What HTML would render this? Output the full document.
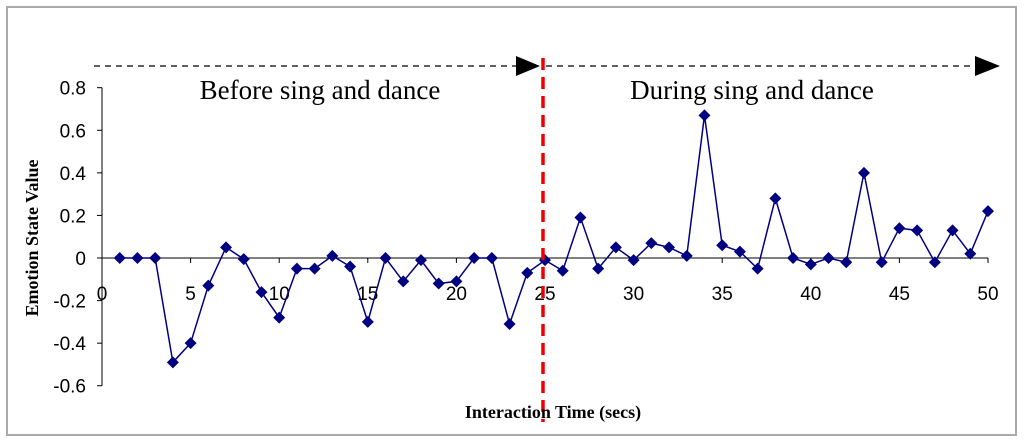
<!DOCTYPE html>
<html><head><meta charset="utf-8"><style>
body{margin:0;background:#fff}
svg{display:block}
text{font-family:"Liberation Sans",sans-serif}
</style></head><body>
<svg id="chart" width="1024" height="443">
<rect x="7" y="7" width="1009" height="428" fill="none" stroke="#aaa" stroke-width="2"/>
<g id="axes"></g>
<g id="marks"></g>
<g>
<line x1="94" y1="66" x2="516" y2="66" stroke="#000" stroke-dasharray="6,5" stroke-width="1.3"/>
<polygon points="516,56 540,66 516,76" fill="#000"/>
<line x1="546" y1="66" x2="975" y2="66" stroke="#000" stroke-dasharray="6,5" stroke-width="1.3"/>
<polygon points="975,56 1000,66 975,76" fill="#000"/>
<text x="320" y="99" font-family="Liberation Serif" font-size="27" text-anchor="middle" style="font-family:'Liberation Serif',serif">Before sing and dance</text>
<text x="752" y="99" font-size="27" text-anchor="middle" style="font-family:'Liberation Serif',serif">During sing and dance</text>
<line x1="543" y1="58" x2="543" y2="422" stroke="#e00" stroke-width="3.5" stroke-dasharray="12,7"/>
<text x="553" y="418" font-size="18" font-weight="bold" text-anchor="middle" style="font-family:'Liberation Serif',serif">Interaction Time (secs)</text>
<text transform="translate(38,238) rotate(-90)" font-size="18" font-weight="bold" text-anchor="middle" style="font-family:'Liberation Serif',serif">Emotion State Value</text>
</g>
</svg>
<script>
const xValues=[1,2,3,4,5,6,7,8,9,10,11,12,13,14,15,16,17,18,19,20,21,22,23,24,25,26,27,28,29,30,31,32,33,34,35,36,37,38,39,40,41,42,43,44,45,46,47,48,49,50];
const emotionValues=[0,0,0,-0.49,-0.4,-0.13,0.05,-0.005,-0.16,-0.28,-0.05,-0.05,0.01,-0.04,-0.3,0,-0.11,-0.01,-0.12,-0.11,0,0,-0.31,-0.07,-0.01,-0.06,0.19,-0.05,0.05,-0.01,0.07,0.05,0.01,0.67,0.06,0.03,-0.05,0.28,0,-0.03,0,-0.02,0.40,-0.02,0.14,0.13,-0.02,0.13,0.02,0.22];
const yTicks=[0.8,0.6,0.4,0.2,0,-0.2,-0.4,-0.6];
const yTickLabels=["0.8","0.6","0.4","0.2","0","-0.2","-0.4","-0.6"];
const xTicks=[0,5,10,15,20,25,30,35,40,45,50];
const NS="http://www.w3.org/2000/svg";
const xs=v=>102+v*17.72;
const ys=v=>258-v*212.9;
const axes=document.getElementById('axes'),marks=document.getElementById('marks');
function mk(tag,attrs,parent){const e=document.createElementNS(NS,tag);for(const k in attrs)e.setAttribute(k,attrs[k]);parent.appendChild(e);return e;}
const ya=mk('line',{x1:xs(0),y1:ys(0.8),x2:xs(0),y2:ys(-0.6),stroke:'#000'},axes);


const xa=mk('line',{x1:xs(0),y1:ys(0),x2:xs(50),y2:ys(0),stroke:'#000'},axes);


yTicks.forEach((t,i)=>{
 mk('line',{x1:xs(0)-5,y1:ys(t),x2:xs(0),y2:ys(t),stroke:'#000'},axes);
 const tx=mk('text',{x:86,y:ys(t)+7,'font-size':19,'text-anchor':'end'},axes);
 tx.textContent=yTickLabels[i];
 
 
});
xTicks.forEach(t=>{
 mk('line',{x1:xs(t),y1:ys(0),x2:xs(t),y2:ys(0)+5,stroke:'#000'},axes);
 const tx=mk('text',{x:xs(t),y:ys(0)+42,'font-size':19,'text-anchor':'middle'},axes);
 tx.textContent=String(t);
 
 
});
const pts=xValues.map((x,i)=>xs(x)+','+ys(emotionValues[i])).join(' ');
const pl=mk('polyline',{points:pts,fill:'none',stroke:'#000080','stroke-width':1.5},marks);


xValues.forEach((x,i)=>{
 const cx=xs(x),cy=ys(emotionValues[i]),r=6;
 const p=mk('polygon',{points:`${cx},${cy-r} ${cx+r},${cy} ${cx},${cy+r} ${cx-r},${cy}`,fill:'#000080'},marks);
 
 
});
</script>
</body></html>
